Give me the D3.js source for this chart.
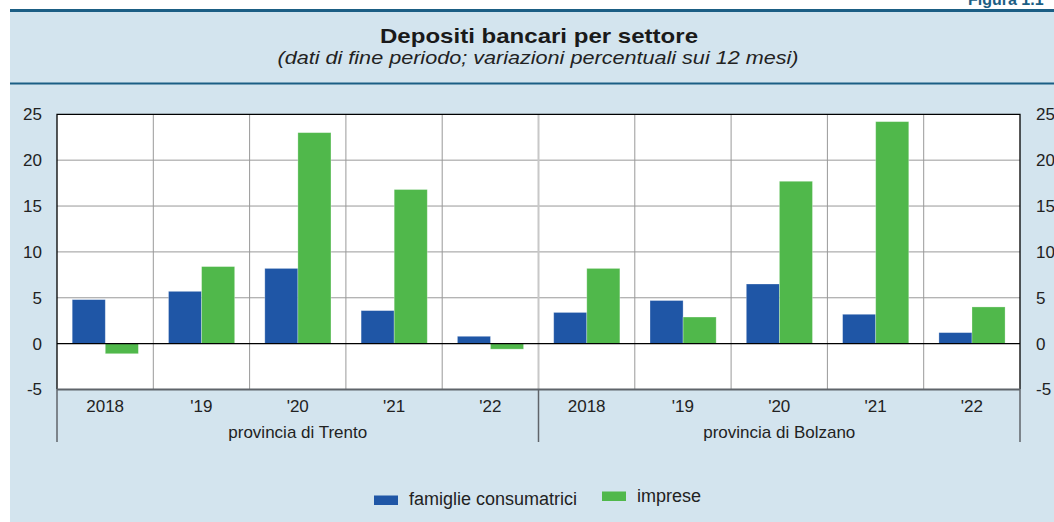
<!DOCTYPE html>
<html>
<head>
<meta charset="utf-8">
<script src="https://cdn.jsdelivr.net/npm/d3@7"></script>
<style>
    html, body { margin: 0; padding: 0; background: #fff; }
    svg { display: block; font-family: "Liberation Sans", Arial, sans-serif; }
</style>
</head>
<body>
<div id="chart"></div>
<script>
// Depositi bancari per settore — Trento / Bolzano

const regions = ['provincia di Trento', 'provincia di Bolzano'];
const years = ['2018', "'19", "'20", "'21", "'22"];
const seriesNames = ['famiglie consumatrici', 'imprese'];
const famiglie = [4.8, 5.7, 8.2, 3.6, 0.8, 3.4, 4.7, 6.5, 3.2, 1.2];
const imprese = [-1.1, 8.4, 23.0, 16.8, -0.6, 8.2, 2.9, 17.7, 24.2, 4.0];
const yTicks = [-5, 0, 5, 10, 15, 20, 25];

const W = 1054, H = 522;
const colors = { 'famiglie consumatrici': '#1F56A6', 'imprese': '#50B84B' };
const teal = '#1B5E84';
const panelBg = '#D3E4EE';

const plot = { left: 57, right: 1020, top: 114.3, bottom: 389.5 };

// one category per region/year pair
const cats = [];
regions.forEach((r, ri) => years.forEach((y, yi) => cats.push({ region: r, year: y, key: ri + '-' + yi })));
const rows = cats.map((c, i) => ({ ...c, values: [famiglie[i], imprese[i]] }));

const svg = d3.select('#chart').append('svg')
    .attr('width', W)
    .attr('height', H);

// Background panel
svg.append('rect').attr('x', 10).attr('y', 9).attr('width', W - 10).attr('height', H - 9).attr('fill', panelBg);
svg.append('rect').attr('x', 10).attr('y', 9).attr('width', W - 10).attr('height', 3).attr('fill', teal);
svg.append('rect').attr('x', 10).attr('y', 82.5).attr('width', W - 10).attr('height', 2).attr('fill', teal);

svg.append('text')
    .attr('x', 968).attr('y', 5)
    .attr('font-size', 16).attr('font-weight', 'bold')
    .attr('fill', teal)
    .text('Figura 1.1');

// Titles
svg.append('text')
    .attr('x', 539).attr('y', 43)
    .attr('text-anchor', 'middle')
    .attr('font-size', 21).attr('font-weight', 'bold')
    .attr('fill', '#1a1a1a')
    .attr('textLength', 318).attr('lengthAdjust', 'spacingAndGlyphs')
    .text('Depositi bancari per settore');

svg.append('text')
    .attr('x', 538).attr('y', 64)
    .attr('text-anchor', 'middle')
    .attr('font-size', 18).attr('font-style', 'italic')
    .attr('fill', '#222')
    .attr('textLength', 521).attr('lengthAdjust', 'spacingAndGlyphs')
    .text('(dati di fine periodo; variazioni percentuali sui 12 mesi)');

// Scales
const x0 = d3.scaleBand()
    .domain(cats.map(c => c.key))
    .range([plot.left, plot.right])
    .padding(0);

const bw = x0.bandwidth();
const x1 = d3.scaleBand()
    .domain(seriesNames)
    .range([bw * 0.158, bw * 0.845])
    .padding(0);

const y = d3.scaleLinear()
    .domain([-5, 25])
    .range([plot.bottom, plot.top]);

// Plot area
svg.append('rect')
    .attr('x', plot.left).attr('y', plot.top)
    .attr('width', plot.right - plot.left).attr('height', plot.bottom - plot.top)
    .attr('fill', '#fff');

// Horizontal grid
svg.append('g')
    .selectAll('line')
    .data(yTicks.filter(t => t !== 0 && t !== -5 && t !== 25))
    .join('line')
    .attr('x1', plot.left).attr('x2', plot.right)
    .attr('y1', d => y(d)).attr('y2', d => y(d))
    .attr('stroke', '#999').attr('stroke-width', 1);

// Vertical grid (between categories)
const bounds = cats.slice(1).map(c => x0(c.key));
svg.append('g')
    .selectAll('line')
    .data(bounds)
    .join('line')
    .attr('x1', d => d).attr('x2', d => d)
    .attr('y1', plot.top).attr('y2', plot.bottom)
    .attr('stroke', (d, i) => i === years.length - 1 ? '#c8c8c8' : '#999')
    .attr('stroke-width', (d, i) => i === years.length - 1 ? 2 : 1);

// Bars
const groups = svg.append('g')
    .selectAll('g')
    .data(rows)
    .join('g')
    .attr('transform', d => `translate(${x0(d.key)},0)`);

groups.selectAll('rect')
    .data(d => seriesNames.map((s, i) => ({ s, v: d.values[i] })))
    .join('rect')
    .attr('x', d => x1(d.s))
    .attr('width', x1.bandwidth())
    .attr('y', d => y(Math.max(0, d.v)))
    .attr('height', d => Math.abs(y(d.v) - y(0)))
    .attr('fill', d => colors[d.s])
    .attr('stroke', '#fff').attr('stroke-opacity', 0.35).attr('stroke-width', 0.8);

// Zero line and borders
svg.append('line')
    .attr('x1', plot.left).attr('x2', plot.right)
    .attr('y1', y(0)).attr('y2', y(0))
    .attr('stroke', '#000').attr('stroke-width', 1.2);

svg.append('path')
    .attr('d', `M${plot.left},${plot.bottom}V${plot.top}H${plot.right}V${plot.bottom}`)
    .attr('fill', 'none').attr('stroke', '#000').attr('stroke-width', 1.3);

svg.append('line')
    .attr('x1', plot.left).attr('x2', plot.right)
    .attr('y1', plot.bottom).attr('y2', plot.bottom)
    .attr('stroke', '#5f646a').attr('stroke-width', 2);

// Y axes (left and right), plain hyphen for negatives
const fmt = d => String(d);
const yAxisL = svg.append('g')
    .attr('transform', `translate(${plot.left},0)`)
    .call(d3.axisLeft(y).tickValues(yTicks).tickFormat(fmt).tickSize(0).tickPadding(15));
const yAxisR = svg.append('g')
    .attr('transform', `translate(${plot.right},0)`)
    .call(d3.axisRight(y).tickValues(yTicks).tickFormat(fmt).tickSize(0).tickPadding(16));

[yAxisL, yAxisR].forEach(a => {
    a.select('.domain').remove();
    a.selectAll('text')
        .attr('font-size', 17)
        .attr('font-family', '"Liberation Sans", Arial, sans-serif')
        .attr('fill', '#222');
});

// X axis: year labels
svg.append('g')
    .selectAll('text')
    .data(cats)
    .join('text')
    .attr('x', d => x0(d.key) + bw / 2)
    .attr('y', 412)
    .attr('text-anchor', 'middle')
    .attr('font-size', 17)
    .attr('fill', '#222')
    .text(d => d.year);

// Region labels and separators
const regionX = regions.map((r, i) => x0(i + '-0'));
regionX.push(plot.right);

svg.append('g')
    .selectAll('line')
    .data(regionX)
    .join('line')
    .attr('x1', d => d).attr('x2', d => d)
    .attr('y1', plot.bottom).attr('y2', 442)
    .attr('stroke', '#5f646a').attr('stroke-width', 1.5);

svg.append('g')
    .selectAll('text')
    .data(regions)
    .join('text')
    .attr('x', (d, i) => (regionX[i] + regionX[i + 1]) / 2)
    .attr('y', 438)
    .attr('text-anchor', 'middle')
    .attr('font-size', 17)
    .attr('fill', '#222')
    .text(d => d);

// Legend
const legend = svg.append('g').attr('transform', 'translate(374,0)');
const legendItems = [
    { name: seriesNames[0], x: 0, sy: 495.5 },
    { name: seriesNames[1], x: 228, sy: 491.5 }
];
const li = legend.selectAll('g')
    .data(legendItems)
    .join('g')
    .attr('transform', d => `translate(${d.x},0)`);

li.append('rect')
    .attr('x', 0).attr('y', d => d.sy)
    .attr('width', 24).attr('height', 9.5)
    .attr('fill', d => colors[d.name]);

li.append('text')
    .attr('x', 35).attr('y', (d, i) => i === 0 ? 505 : 502)
    .attr('font-size', 18)
    .attr('fill', '#222')
    .text(d => d.name);
</script>
</body>
</html>
